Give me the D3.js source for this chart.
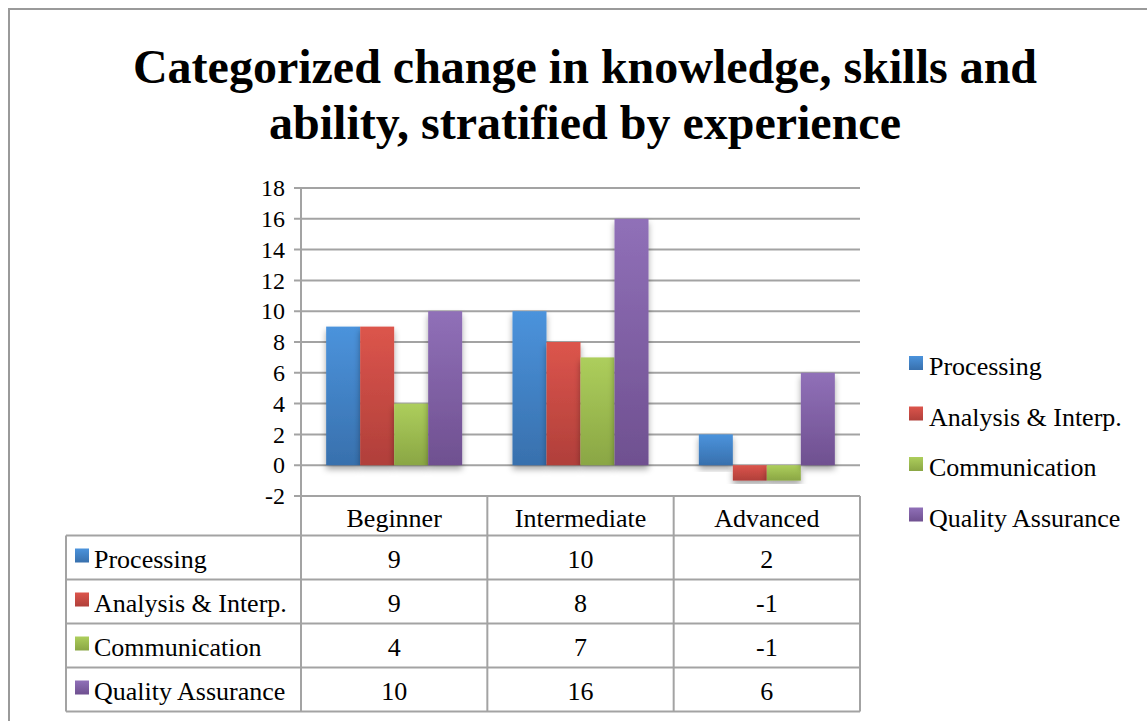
<!DOCTYPE html>
<html>
<head>
<meta charset="utf-8">
<script src="https://cdn.jsdelivr.net/npm/d3@7"></script>
<style>
  body { margin: 0; background: #fff; }
  svg text { font-family: "Liberation Serif", "Times New Roman", serif; fill: #000; }
</style>
</head>
<body>
<svg width="1147" height="721"></svg>
<script>
// chart data
const categories = ["Beginner", "Intermediate", "Advanced"];
const seriesNames = ["Processing", "Analysis & Interp.", "Communication", "Quality Assurance"];
const processing = [9, 10, 2];
const analysis = [9, 8, -1];
const communication = [4, 7, -1];
const quality = [10, 16, 6];
const yTicks = [-2, 0, 2, 4, 6, 8, 10, 12, 14, 16, 18];
const titleLines = ["Categorized change in knowledge, skills and", "ability, stratified by experience"];

const seriesValues = [processing, analysis, communication, quality];
// top / bottom colours for the bar gradients
const colorsTop = ["#4b93dc", "#dc554c", "#adce5c", "#9070b8"];
const colorsBottom = ["#3870ad", "#b03f3a", "#8aa644", "#6f5090"];

const svg = d3.select("svg");
const defs = svg.append("defs");

seriesNames.forEach((s, i) => {
  const grad = defs.append("linearGradient")
    .attr("id", "grad" + i)
    .attr("x1", 0).attr("y1", 0).attr("x2", 0).attr("y2", 1);
  grad.append("stop").attr("offset", "0%").attr("stop-color", colorsTop[i]);
  grad.append("stop").attr("offset", "100%").attr("stop-color", colorsBottom[i]);
});
const shadow = defs.append("filter").attr("id", "shadow")
  .attr("x", "-20%").attr("y", "-10%").attr("width", "140%").attr("height", "130%");
shadow.append("feDropShadow")
  .attr("dx", 0).attr("dy", 4).attr("stdDeviation", 3)
  .attr("flood-color", "#000").attr("flood-opacity", 0.35);

// outer frame (cut by the window on right and bottom)
svg.append("rect")
  .attr("x", 9).attr("y", 9)
  .attr("width", 1200).attr("height", 800)
  .attr("fill", "none").attr("stroke", "#9a9a9a").attr("stroke-width", 2);

// title
svg.append("text")
  .attr("x", 585).attr("y", 83)
  .attr("text-anchor", "middle")
  .attr("font-weight", "bold").attr("font-size", "48px")
  .selectAll("tspan").data(titleLines).enter().append("tspan")
  .attr("x", 585).attr("dy", (d, i) => i === 0 ? 0 : 56)
  .text(d => d);

// scales
const plotLeft = 301, plotRight = 860;
const y = d3.scaleLinear().domain([-2, 18]).range([496, 188]);
const x0 = d3.scaleBand().domain(categories).range([plotLeft, plotRight])
  .paddingInner(0.27).paddingOuter(0.135);
const x1 = d3.scaleBand().domain(d3.range(seriesNames.length)).range([0, x0.bandwidth()]);
const step = (plotRight - plotLeft) / categories.length;

const gridColor = "#a3a3a3";

// gridlines
svg.append("g").selectAll("line").data(yTicks).enter().append("line")
  .attr("x1", plotLeft - 7).attr("x2", plotRight)
  .attr("y1", d => y(d)).attr("y2", d => y(d))
  .attr("stroke", gridColor).attr("stroke-width", 2);

// y axis
const yAxisG = svg.append("g")
  .attr("transform", `translate(${plotLeft},0)`)
  .call(d3.axisLeft(y).tickValues(yTicks).tickSize(0).tickPadding(16)
    .tickFormat(d => String(d)));
yAxisG.attr("font-family", null);
yAxisG.select(".domain").remove();
yAxisG.selectAll("text").attr("font-size", "24px");
svg.append("line")
  .attr("x1", plotLeft).attr("x2", plotLeft)
  .attr("y1", y(18)).attr("y2", 712)
  .attr("stroke", gridColor).attr("stroke-width", 2);

// bars
const barData = [];
categories.forEach((c, ci) => {
  seriesValues.forEach((vals, si) => {
    barData.push({ cat: c, s: si, v: vals[ci] });
  });
});
svg.append("g").selectAll("rect").data(barData).enter().append("rect")
  .attr("x", d => x0(d.cat) + x1(d.s))
  .attr("width", x1.bandwidth())
  .attr("y", d => y(Math.max(0, d.v)))
  .attr("height", d => Math.abs(y(d.v) - y(0)))
  .attr("fill", d => `url(#grad${d.s})`)
  .attr("filter", "url(#shadow)");

// data table
const tableLeft = 66;
const headerBottom = 535.5;
const rowH = 44;
const tableBottom = headerBottom + rowH * seriesNames.length;
const table = svg.append("g");

// horizontal lines
table.selectAll("line.h").data(d3.range(seriesNames.length + 1)).enter().append("line")
  .attr("x1", tableLeft).attr("x2", plotRight)
  .attr("y1", i => headerBottom + i * rowH).attr("y2", i => headerBottom + i * rowH)
  .attr("stroke", gridColor).attr("stroke-width", 2);
// vertical lines
table.selectAll("line.v").data(d3.range(1, categories.length + 1)).enter().append("line")
  .attr("x1", i => plotLeft + i * step).attr("x2", i => plotLeft + i * step)
  .attr("y1", y(-2)).attr("y2", tableBottom)
  .attr("stroke", gridColor).attr("stroke-width", 2);
table.append("line")
  .attr("x1", tableLeft).attr("x2", tableLeft)
  .attr("y1", headerBottom).attr("y2", tableBottom)
  .attr("stroke", gridColor).attr("stroke-width", 2);

// category header
table.selectAll("text.cat").data(categories).enter().append("text")
  .attr("x", d => x0(d) + x0.bandwidth() / 2)
  .attr("y", 527)
  .attr("text-anchor", "middle").attr("font-size", "26px")
  .text(d => d);

// row labels with keys
seriesNames.forEach((s, si) => {
  const rowTop = headerBottom + si * rowH;
  table.append("rect")
    .attr("x", 75).attr("y", rowTop + 13)
    .attr("width", 14).attr("height", 14)
    .attr("fill", `url(#grad${si})`);
  table.append("text")
    .attr("x", 94).attr("y", rowTop + 32)
    .attr("font-size", "26px")
    .text(s);
  table.selectAll(null).data(seriesValues[si]).enter().append("text")
    .attr("x", (d, ci) => x0(categories[ci]) + x0.bandwidth() / 2)
    .attr("y", rowTop + 32)
    .attr("text-anchor", "middle").attr("font-size", "26px")
    .text(d => d);
});

// legend on the right
const legend = svg.append("g").attr("transform", "translate(909,356)");
const item = legend.selectAll("g").data(seriesNames).enter().append("g")
  .attr("transform", (d, i) => `translate(0,${i * 50.5})`);
item.append("rect")
  .attr("width", 14).attr("height", 14)
  .attr("fill", (d, i) => `url(#grad${i})`);
item.append("text")
  .attr("x", 20).attr("y", 19)
  .attr("font-size", "26px")
  .text(d => d);
</script>
</body>
</html>
